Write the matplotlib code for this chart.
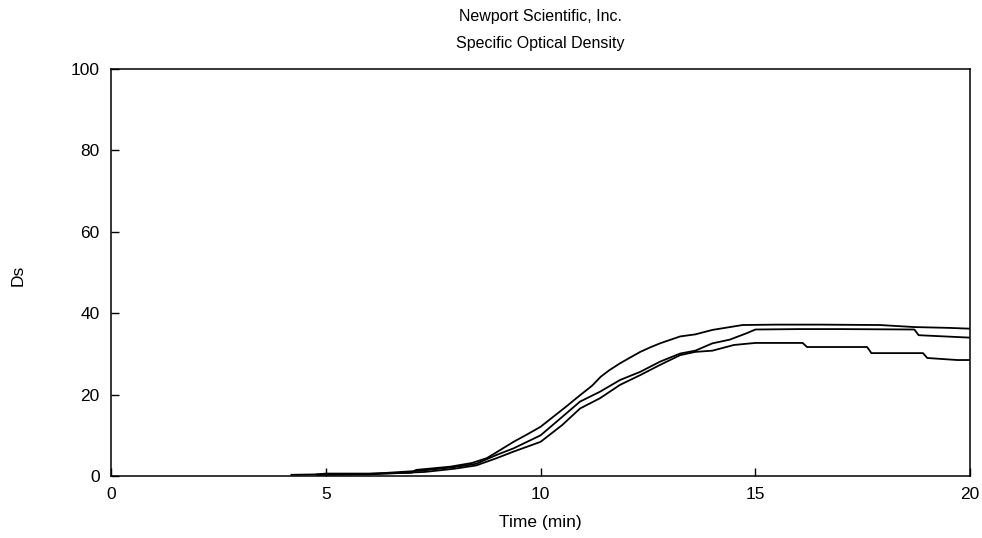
import matplotlib
matplotlib.use("Agg")
import matplotlib.pyplot as plt

plt.rcParams['font.family'] = ['Liberation Sans', 'DejaVu Sans']

# Specific optical density runs
t_a = [4.2, 4.8, 5.0, 6.0, 7.0, 7.1, 7.9, 8.4, 8.75, 9.0, 9.37, 9.7, 10.0, 10.3,
       10.6, 10.9, 11.2, 11.4, 11.6, 11.85, 12.1, 12.32, 12.55, 12.78, 13.0,
       13.25, 13.6, 14.0, 14.7, 15.5, 16.5, 17.9, 18.7, 19.5, 20.0]
ds_a = [0.3, 0.4, 0.6, 0.6, 0.8, 1.5, 2.3, 3.2, 4.4, 6.0, 8.4, 10.3, 12.1, 14.6,
        17.1, 19.7, 22.2, 24.4, 26.0, 27.7, 29.2, 30.5, 31.6, 32.6, 33.4,
        34.3, 34.8, 35.9, 37.1, 37.2, 37.2, 37.1, 36.6, 36.4, 36.2]

t_b = [4.8, 6.0, 7.2, 8.0, 8.5, 8.98, 9.37, 10.0, 10.5, 10.92, 11.38, 11.85,
       12.32, 12.78, 13.25, 13.6, 14.0, 14.4, 14.8, 15.0, 16.0, 17.0, 18.7,
       18.8, 20.0]
ds_b = [0.4, 0.5, 1.3, 2.2, 3.0, 5.2, 6.8, 10.0, 14.5, 18.3, 20.7, 23.6,
        25.6, 28.1, 30.1, 30.8, 32.6, 33.5, 35.1, 36.0, 36.1, 36.1, 36.0,
        34.6, 34.0]

t_c = [4.8, 6.0, 7.3, 8.0, 8.5, 8.98, 9.37, 10.0, 10.5, 10.92, 11.38, 11.85,
       12.32, 12.78, 13.25, 13.6, 14.0, 14.5, 15.0, 16.1, 16.2, 17.6, 17.7,
       18.9, 19.0, 19.7, 20.0]
ds_c = [0.3, 0.4, 1.0, 1.8, 2.6, 4.4, 6.0, 8.4, 12.5, 16.6, 19.1, 22.4,
        24.8, 27.3, 29.7, 30.5, 30.8, 32.2, 32.7, 32.7, 31.7, 31.7, 30.2,
        30.2, 29.0, 28.5, 28.5]

fig = plt.figure(figsize=(9.82, 5.38), dpi=100)
ax = fig.add_axes([0.113, 0.1152, 0.875, 0.7565])

for t, d in [(t_a, ds_a), (t_b, ds_b), (t_c, ds_c)]:
    ax.plot(t, d, color="black", lw=1.3)

ax.set_xlim(0, 20)
ax.set_ylim(0, 100)
ax.set_xticks([0, 5, 10, 15, 20])
ax.set_yticks([0, 20, 40, 60, 80, 100])
ax.tick_params(direction="in", length=6, width=1, labelsize=12.5, pad=8)
for s in ax.spines.values():
    s.set_linewidth(1.1)

fig.text(0.5505, 0.970, "Newport Scientific, Inc.", ha="center", va="center", fontsize=11.5)
fig.text(0.5505, 0.920, "Specific Optical Density", ha="center", va="center", fontsize=11.5)
fig.text(0.5505, 0.028, "Time (min)", ha="center", va="center", fontsize=12.5)
fig.text(0.018, 0.489, "Ds", ha="center", va="center", rotation=90, fontsize=12.5)

plt.savefig("out.png", dpi=100)
